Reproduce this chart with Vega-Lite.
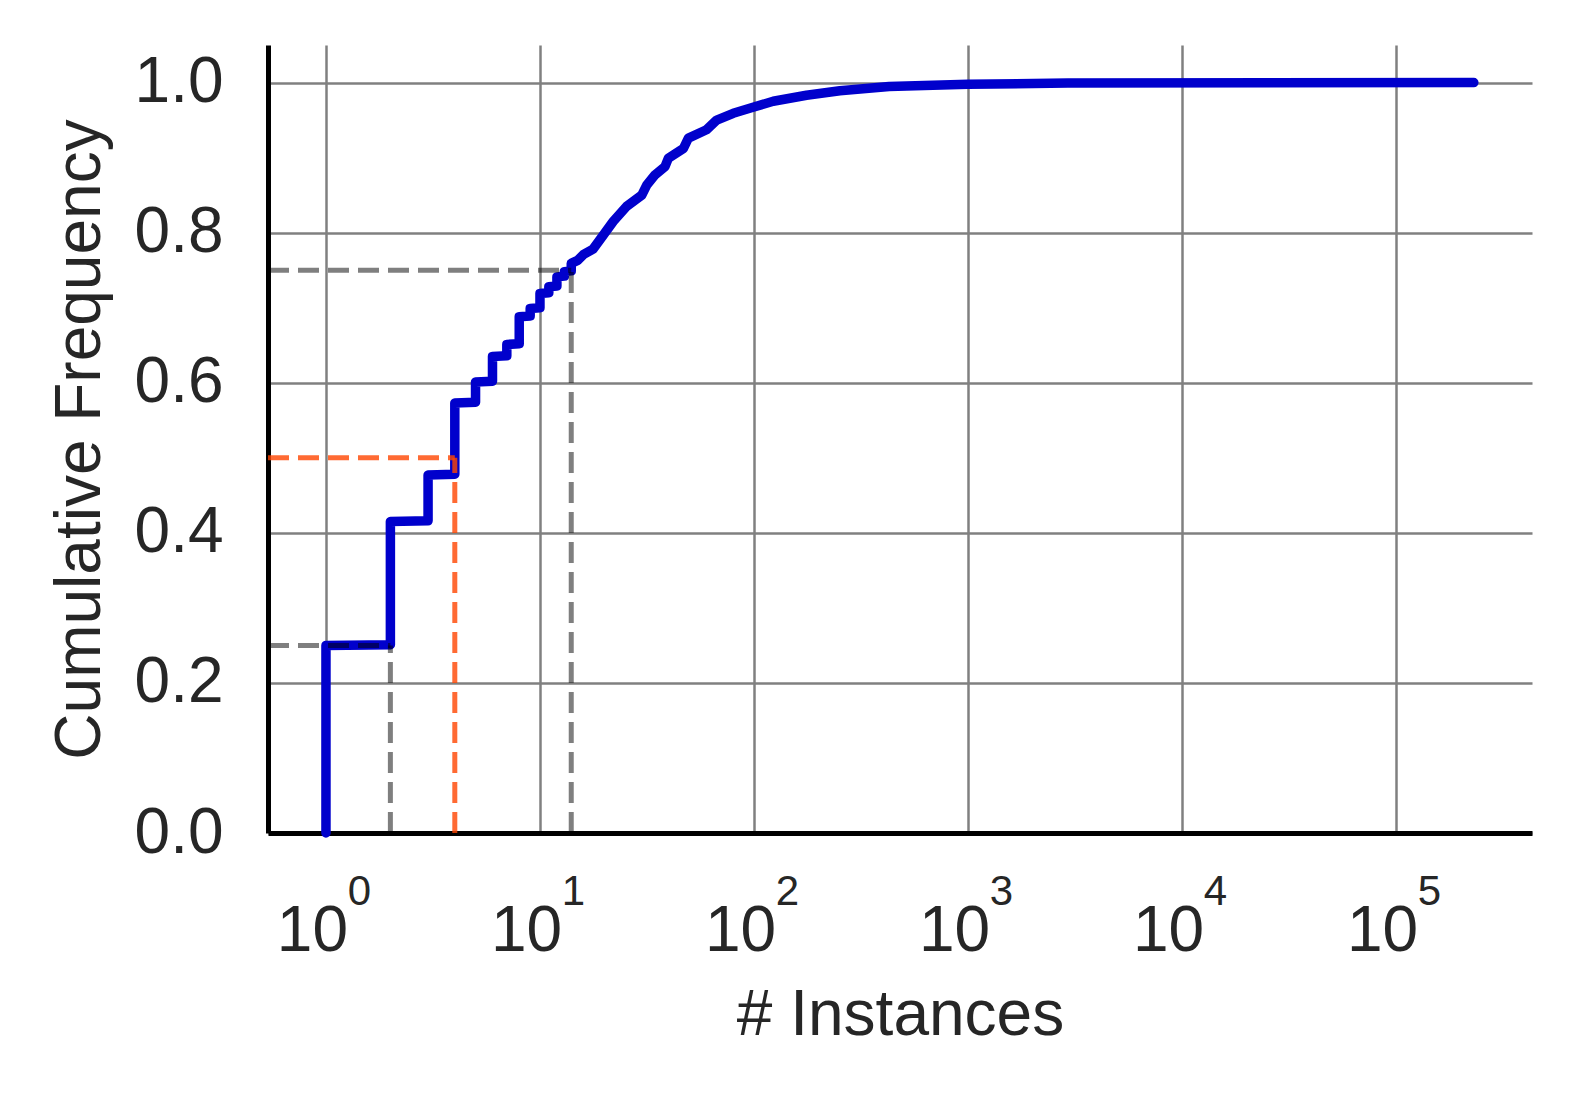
{
  "$schema": "https://vega.github.io/schema/vega-lite/v6.json",
  "autosize": {"type": "none"},
  "padding": {"left": 268, "top": 45, "right": 46, "bottom": 269},
  "width": 1264,
  "height": 788,
  "background": "white",
  "config": {
    "view": {"stroke": null},
    "font": "Liberation Sans",
    "axis": {
      "labelFont": "Liberation Sans",
      "titleFont": "Liberation Sans",
      "labelColor": "#262626",
      "titleColor": "#262626",
      "titleFontWeight": "normal",
      "ticks": false,
      "tickSize": 0,
      "gridColor": "#808080",
      "gridWidth": 2.5,
      "gridOpacity": 1,
      "domainColor": "black",
      "domainWidth": 5,
      "labelOverlap": false,
      "labelFlush": false,
      "labelBound": false
    }
  },
  "resolve": {"axis": {"x": "independent"}},
  "layer": [
    {
      "data": {"values": [
        {"x": 1, "y": 0}, {"x": 1, "y": 0.25}, {"x": 2, "y": 0.251}, {"x": 2, "y": 0.415},
        {"x": 3, "y": 0.416}, {"x": 3, "y": 0.477}, {"x": 4, "y": 0.478}, {"x": 4, "y": 0.573},
        {"x": 5, "y": 0.574}, {"x": 5, "y": 0.601}, {"x": 6, "y": 0.602}, {"x": 6, "y": 0.635},
        {"x": 7, "y": 0.636}, {"x": 7, "y": 0.651}, {"x": 8, "y": 0.652}, {"x": 8, "y": 0.688},
        {"x": 9, "y": 0.689}, {"x": 9, "y": 0.699}, {"x": 10, "y": 0.7}, {"x": 10, "y": 0.719},
        {"x": 11, "y": 0.72}, {"x": 11, "y": 0.728}, {"x": 12, "y": 0.729}, {"x": 12, "y": 0.741},
        {"x": 13, "y": 0.742}, {"x": 13, "y": 0.748}, {"x": 14, "y": 0.749}, {"x": 14, "y": 0.759},
        {"x": 15, "y": 0.763}, {"x": 16, "y": 0.771}, {"x": 17.7, "y": 0.778}, {"x": 19.8, "y": 0.797},
        {"x": 22, "y": 0.815}, {"x": 25.4, "y": 0.835}, {"x": 29.9, "y": 0.85}, {"x": 31.5, "y": 0.863},
        {"x": 34.5, "y": 0.877}, {"x": 38.4, "y": 0.888}, {"x": 39.8, "y": 0.899}, {"x": 46.8, "y": 0.912},
        {"x": 49.4, "y": 0.926}, {"x": 60, "y": 0.937}, {"x": 67, "y": 0.95}, {"x": 80, "y": 0.959},
        {"x": 99, "y": 0.967}, {"x": 123, "y": 0.975}, {"x": 176, "y": 0.983}, {"x": 252, "y": 0.989},
        {"x": 428, "y": 0.9947}, {"x": 1000, "y": 0.9977}, {"x": 2930, "y": 0.9993}, {"x": 231000, "y": 1.0}
      ]},
      "mark": {"type": "line", "color": "#0000CC", "strokeWidth": 9.5, "strokeCap": "round", "strokeJoin": "round"},
      "encoding": {
        "x": {
          "field": "x", "type": "quantitative",
          "scale": {"type": "log", "domain": [0.536, 432000], "nice": false},
          "axis": {
            "values": [1, 10, 100, 1000, 10000, 100000],
            "labelExpr": "'10'",
            "labelFontSize": 64,
            "labelBaseline": "alphabetic",
            "labelPadding": 117,
            "labelOffset": -14,
            "grid": true,
            "domain": true,
            "title": "# Instances",
            "titleFontSize": 64,
            "titlePadding": 20
          }
        },
        "y": {
          "field": "y", "type": "quantitative",
          "scale": {"domain": [0, 1.05], "nice": false},
          "axis": {
            "values": [0, 0.2, 0.4, 0.6, 0.8, 1.0],
            "format": ".1f",
            "labelFontSize": 64,
            "labelPadding": 45,
            "grid": true,
            "title": "Cumulative Frequency",
            "titleFontSize": 64,
            "titlePadding": 22
          }
        }
      }
    },
    {
      "data": {"values": [
        {"q": "gray", "x": 0.536, "x2": 2, "y": 0.25, "y2": 0.25},
        {"q": "gray", "x": 2, "x2": 2, "y": 0, "y2": 0.25},
        {"q": "orange", "x": 0.536, "x2": 4, "y": 0.5, "y2": 0.5},
        {"q": "orange", "x": 4, "x2": 4, "y": 0, "y2": 0.5},
        {"q": "gray", "x": 0.536, "x2": 14, "y": 0.75, "y2": 0.75},
        {"q": "gray", "x": 14, "x2": 14, "y": 0, "y2": 0.75}
      ]},
      "mark": {"type": "rule", "strokeWidth": 5, "strokeDash": [21, 9], "strokeCap": "butt"},
      "encoding": {
        "x": {
          "field": "x", "type": "quantitative",
          "scale": {"type": "log", "domain": [0.536, 432000], "nice": false},
          "axis": {
            "orient": "bottom",
            "values": [1, 10, 100, 1000, 10000, 100000],
            "labelExpr": "format(log(datum.value) / LN10, '.0f')",
            "labelFontSize": 42,
            "labelBaseline": "alphabetic",
            "labelPadding": 71,
            "labelOffset": 33,
            "grid": false,
            "domain": false,
            "title": null
          }
        },
        "x2": {"field": "x2"},
        "y": {
          "field": "y", "type": "quantitative",
          "scale": {"domain": [0, 1.05], "nice": false},
          "axis": {
            "values": [0, 0.2, 0.4, 0.6, 0.8, 1.0],
            "format": ".1f",
            "labelFontSize": 64,
            "labelPadding": 45,
            "grid": true,
            "title": "Cumulative Frequency",
            "titleFontSize": 64,
            "titlePadding": 22
          }
        },
        "y2": {"field": "y2"},
        "color": {"field": "q", "type": "nominal", "scale": {"domain": ["gray", "orange"], "range": ["#000000", "#FF4500"]}, "legend": null},
        "opacity": {"field": "q", "type": "nominal", "scale": {"domain": ["gray", "orange"], "range": [0.5, 0.8]}, "legend": null}
      }
    }
  ]
}
